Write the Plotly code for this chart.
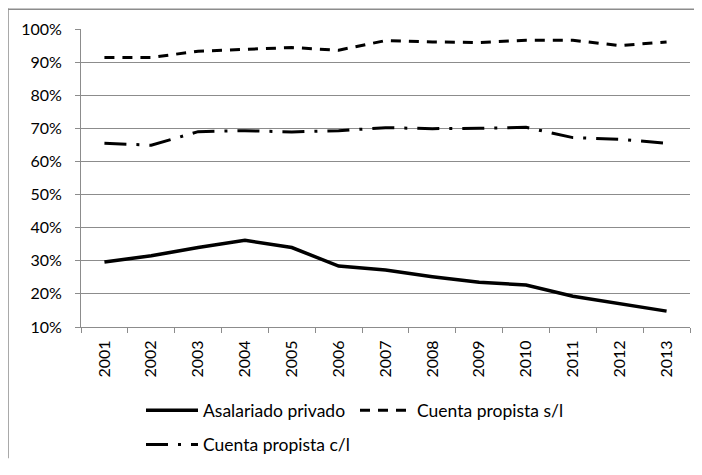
import plotly.graph_objects as go

years = [str(y) for y in range(2001, 2014)]
asalariado = [29.6, 31.5, 34.0, 36.2, 34.0, 28.4, 27.2, 25.2, 23.5, 22.7, 19.3, 17.0, 14.8]
cp_sl = [91.4, 91.4, 93.3, 93.8, 94.4, 93.6, 96.5, 96.1, 95.9, 96.6, 96.6, 95.0, 96.1]
cp_cl = [65.5, 64.9, 69.0, 69.3, 68.9, 69.3, 70.2, 69.9, 70.0, 70.3, 67.2, 66.7, 65.5]
yticks = [10, 20, 30, 40, 50, 60, 70, 80, 90, 100]
ytick_text = [f"{v}%" for v in yticks]

# page has an 8px body margin; keep the figure inside the 702x475 window
OFF = 8
W, H = 702 - 2 * OFF, 475 - 2 * OFF
L, T = 81 - OFF, 29 - OFF
R = W - (690 - OFF)
B = H - (333 - OFF)
pw, ph = W - L - R, H - T - B

def px_x(p):
    """figure-pixel x -> paper fraction"""
    return (p - L) / pw

def px_y(p):
    """figure-pixel y -> paper fraction"""
    return (H - B - p) / ph

FONT = "Lato, 'Open Sans', sans-serif"

fig = go.Figure()
fig.add_trace(go.Scatter(x=years, y=asalariado, mode="lines", name="Asalariado privado",
                         line=dict(color="black", width=3.5), legend="legend"))
fig.add_trace(go.Scatter(x=years, y=cp_sl, mode="lines", name="Cuenta propista s/l",
                         line=dict(color="black", width=3, dash="10px,8px"), legend="legend"))
fig.add_trace(go.Scatter(x=years, y=cp_cl, mode="lines", name="Cuenta propista c/l",
                         line=dict(color="black", width=3, dash="22px,10px,3px,10px"), legend="legend2"))

grid = "#8c8c8c"
border = dict(color="#8c8c8c", width=1.5)
fig.update_layout(
    template="none",
    width=W, height=H,
    margin=dict(l=L, r=R, t=T, b=B, pad=0),
    paper_bgcolor="white", plot_bgcolor="white",
    font=dict(family=FONT, size=16, color="black"),
    showlegend=True,
    xaxis=dict(type="category", tickangle=-90, showline=True, linecolor=grid, linewidth=1,
               ticks="outside", ticklen=5, tickcolor=grid, tickson="boundaries",
               showgrid=False, tickfont=dict(size=16), range=[-0.5, 12.5], automargin=False,
               ticklabelstandoff=6),
    yaxis=dict(range=[10, 100], tickvals=yticks, ticktext=ytick_text, showgrid=True,
               gridcolor=grid, gridwidth=1, showline=True, linecolor=grid, linewidth=1,
               ticks="outside", ticklen=5, tickcolor=grid, tickfont=dict(size=16),
               zeroline=False, automargin=False, ticklabelstandoff=10),
    legend=dict(orientation="h", x=px_x(133), y=px_y(410), xanchor="left", yanchor="middle",
                entrywidth=147, entrywidthmode="pixels", itemwidth=52,
                font=dict(size=17.5, family=FONT), bgcolor="rgba(0,0,0,0)"),
    legend2=dict(orientation="h", x=px_x(133), y=px_y(445), xanchor="left", yanchor="middle",
                 itemwidth=52, font=dict(size=17.5, family=FONT), bgcolor="rgba(0,0,0,0)"),
    shapes=[
        dict(type="line", xref="paper", yref="paper",
             x0=px_x(0), x1=px_x(W), y0=px_y(0.75), y1=px_y(0.75), line=border, layer="below"),
        dict(type="line", xref="paper", yref="paper",
             x0=px_x(0), x1=px_x(0), y0=px_y(0), y1=px_y(H), line=border, layer="below"),
    ],
)
fig.write_html("out.html")
